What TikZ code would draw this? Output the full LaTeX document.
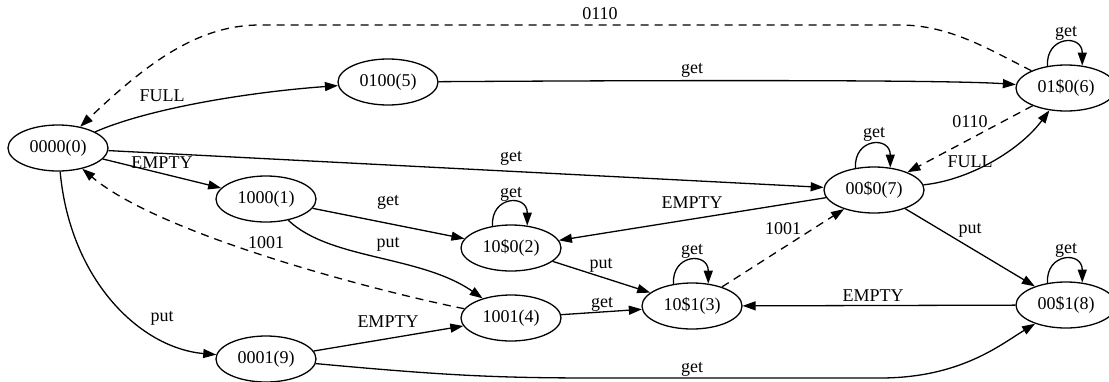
\documentclass[tikz,border=0pt]{standalone}
\usepackage{fontspec}
\setmainfont{Liberation Serif}
\usetikzlibrary{arrows.meta,shapes.geometric}
\begin{document}
\begin{tikzpicture}[x=1pt,y=-1pt,
  font=\fontsize{18}{20}\selectfont,
  st/.style={ellipse, draw, line width=1.3pt, minimum width=100pt, minimum height=46pt, inner sep=0pt},
  e/.style={line width=1.3pt, -{Triangle[length=13pt,width=9pt]}},
  dsh/.style={e, dash pattern=on 8pt off 6pt},
  lbl/.style={inner sep=0pt}]
\useasboundingbox (0,0) rectangle (1109,381);
% states
\node[st] (n0) at (58,148) {0000(0)};
\node[st] (n1) at (266,199) {1000(1)};
\node[st] (n2) at (511,248) {10\$0(2)};
\node[st] (n3) at (692,306) {10\$1(3)};
\node[st] (n4) at (511,318) {1001(4)};
\node[st] (n5) at (388,82) {0100(5)};
\node[st] (n6) at (1066,88) {01\$0(6)};
\node[st] (n7) at (874,190) {00\$0(7)};
\node[st] (n8) at (1066,305) {00\$1(8)};
\node[st] (n9) at (266,359) {0001(9)};
% edges
\draw[e] (n0) .. controls (150,108) and (250,92) .. (n5) node[lbl] (l1) at (162,96) {FULL};
\draw[e] (n0) -- (n7) node[lbl] (l2) at (511,158) {get};
\draw[e] (n0) -- (n1) node[lbl] (l3) at (162,163) {EMPTY};
\draw[e] (n0) .. controls (70,280) and (140,348) .. (n9) node[lbl] (l4) at (162,318) {put};
\draw[dsh] (n4) .. controls (380,292) and (160,235) .. (n0) node[lbl] (l5) at (266,243) {1001};
\draw[dsh] (n6) .. controls (990,50) and (950,25) .. (900,25) -- (260,25) .. controls (200,25) and (150,60) .. (n0) node[lbl] (l6) at (600,14) {0110};
\draw[e] (n5) .. controls (700,80) and (950,80) .. (n6) node[lbl] (l7) at (692,70) {get};
\draw[e] (n6.130) .. controls +(-2,-30) and +(0,-32) .. (n6.54) node[lbl] (l8) at (1066,33) {get};
\draw[dsh] (n6) -- (n7) node[lbl] (l9) at (970,122) {0110};
\draw[e] (n7) .. controls (970,180) and (1020,150) .. (n6) node[lbl] (l10) at (970,162) {FULL};
\draw[e] (n7.130) .. controls +(-2,-30) and +(0,-32) .. (n7.54) node[lbl] (l11) at (874,134) {get};
\draw[e] (n7) -- (n2) node[lbl] (l12) at (692,203) {EMPTY};
\draw[e] (n7) -- (n8) node[lbl] (l13) at (970,230) {put};
\draw[dsh] (n3) -- (n7) node[lbl] (l14) at (783,229) {1001};
\draw[e] (n3.130) .. controls +(-2,-30) and +(0,-32) .. (n3.54) node[lbl] (l15) at (692,251) {get};
\draw[e] (n8) -- (n3) node[lbl] (l16) at (873,296) {EMPTY};
\draw[e] (n8.130) .. controls +(-2,-30) and +(0,-32) .. (n8.54) node[lbl] (l17) at (1066,250) {get};
\draw[e] (n9) .. controls (450,376) and (500,378) .. (600,378) -- (880,378) .. controls (960,378) and (1000,345) .. (n8) node[lbl] (l18) at (692,369) {get};
\draw[e] (n1) -- (n2) node[lbl] (l19) at (388,202) {get};
\draw[e] (n1) .. controls (330,260) and (420,255) .. (n4) node[lbl] (l20) at (388,244) {put};
\draw[e] (n2.130) .. controls +(-2,-30) and +(0,-32) .. (n2.54) node[lbl] (l21) at (511,194) {get};
\draw[e] (n2) -- (n3) node[lbl] (l22) at (601,265) {put};
\draw[e] (n4) -- (n3) node[lbl] (l23) at (602,304) {get};
\draw[e] (n9) -- (n4) node[lbl] (l24) at (388,322) {EMPTY};
\end{tikzpicture}
\end{document}
